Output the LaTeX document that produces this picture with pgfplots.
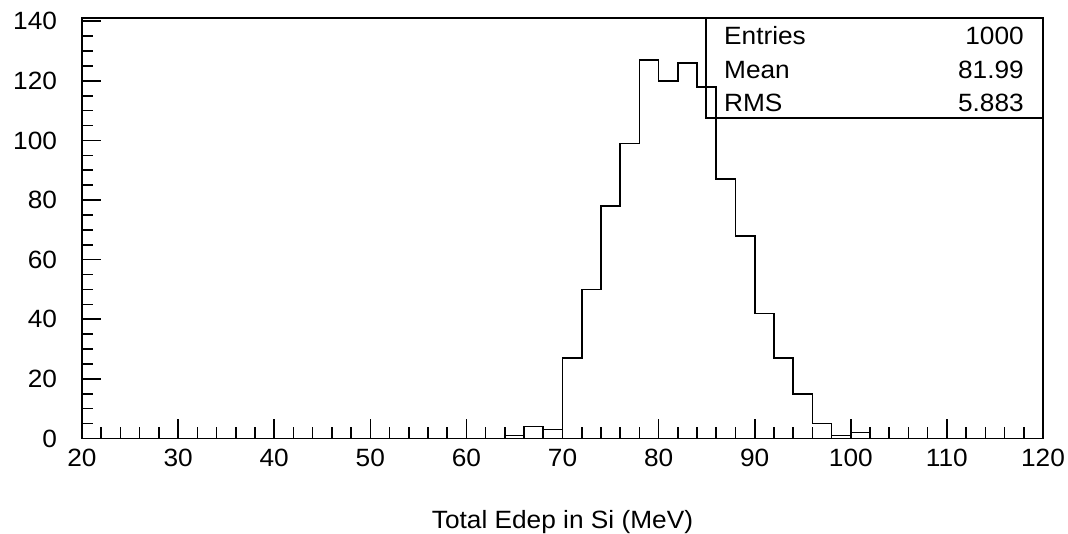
\documentclass[border=0pt]{standalone}
\usepackage{fontspec}
\setmainfont{Liberation Sans}[FakeStretch=1.05]
\usepackage{pgfplots}
\pgfplotsset{compat=1.18}
\newcommand\rootsize{\fontsize{25pt}{30pt}\selectfont}
\begin{document}
\begin{tikzpicture}[font=\rootsize]
\useasboundingbox (-82pt,-95.5pt) rectangle (986pt,438.5pt);
\begin{axis}[
  scale only axis, width=961pt, height=420.5pt,
  xmin=20, xmax=120, ymin=0, ymax=141.1,
  xtick={20,30,...,120}, ytick={0,20,...,140},
  minor x tick num=4, minor y tick num=3,
  tick pos=left, tick align=inside,
  major tick length=19pt, minor tick length=11pt,
  axis line style={line width=1.6pt},
  every tick/.style={black, line width=1.6pt},
  /pgf/number format/assume math mode=true,
  tick label style={font=\rootsize},
  xticklabel style={yshift=-7.5pt},
  yticklabel style={xshift=-21.5pt},
  xlabel={Total Edep in Si (MeV)},
  xlabel style={at={(axis description cs:0.5,0)}, anchor=base, yshift=-89.8pt, font=\rootsize},
]
\addplot[const plot, black, line width=1.6pt] coordinates {
  (20,0) (64,1) (66,4) (68,3) (70,27) (72,50) (74,78) (76,99) (78,127)
  (80,120) (82,126) (84,118) (86,87) (88,68) (90,42) (92,27) (94,15)
  (96,5) (98,1) (100,2) (102,0) (120,0)
};
\draw[line width=1.6pt] (rel axis cs:0.6493,0.7615) rectangle (rel axis cs:1,1);
\node[anchor=base west, inner sep=0] at (rel axis cs:0.668,0.9375) {Entries};
\node[anchor=base west, inner sep=0] at (rel axis cs:0.668,0.8566) {Mean};
\node[anchor=base west, inner sep=0] at (rel axis cs:0.668,0.7788) {RMS};
\node[anchor=base east, inner sep=0] at (rel axis cs:0.9802,0.9375) {1000};
\node[anchor=base east, inner sep=0] at (rel axis cs:0.9802,0.8566) {81.99};
\node[anchor=base east, inner sep=0] at (rel axis cs:0.9802,0.7788) {5.883};
\end{axis}
\end{tikzpicture}
\end{document}
